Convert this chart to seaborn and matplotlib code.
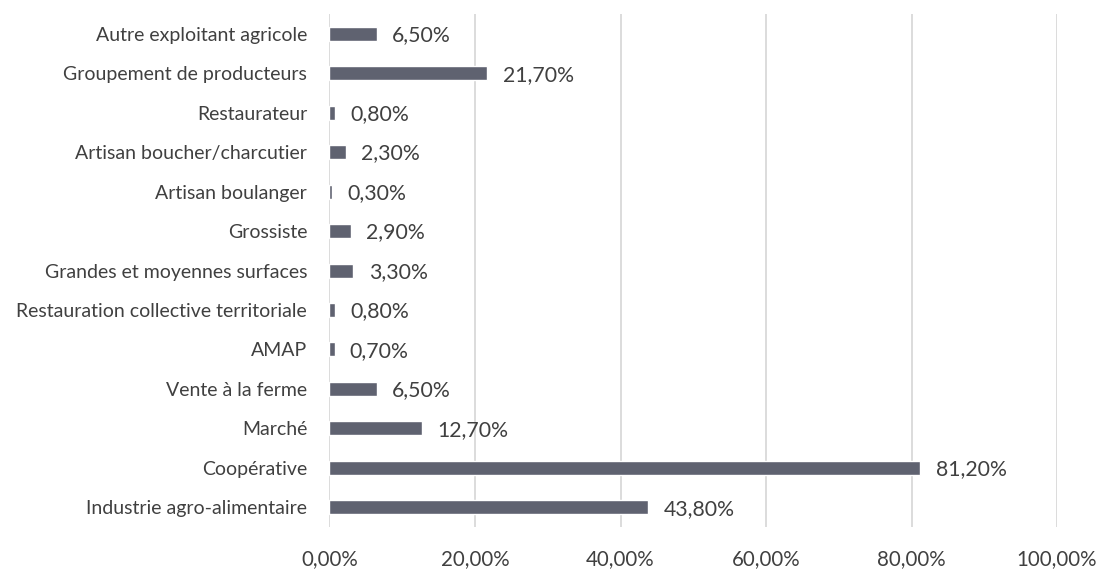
import matplotlib
matplotlib.use("Agg")
import matplotlib.pyplot as plt
import seaborn as sns
import pandas as pd
from matplotlib.ticker import FuncFormatter

categories = [
    "Autre exploitant agricole",
    "Groupement de producteurs",
    "Restaurateur",
    "Artisan boucher/charcutier",
    "Artisan boulanger",
    "Grossiste",
    "Grandes et moyennes surfaces",
    "Restauration collective territoriale",
    "AMAP",
    "Vente à la ferme",
    "Marché",
    "Coopérative",
    "Industrie agro-alimentaire",
]
values = [6.5, 21.7, 0.8, 2.3, 0.3, 2.9, 3.3, 0.8, 0.7, 6.5, 12.7, 81.2, 43.8]
x_ticks = [0, 20, 40, 60, 80, 100]

df = pd.DataFrame({"canal": categories, "part": values})

sns.set_theme(style="white")
plt.rcParams["font.family"] = ["Lato", "DejaVu Sans"]

text_color = "#404040"
bar_color = "#5f6270"
grid_color = "#d9d9d9"


def pct(v):
    return f"{v:.2f}%".replace(".", ",")


fig = plt.figure(figsize=(11, 5.7), dpi=100)
ax = fig.add_axes([0.2995, 0.0754, 0.6615, 0.9])

sns.barplot(data=df, y="canal", x="part", orient="h", color=bar_color,
            saturation=1, width=0.355, ax=ax, order=categories)

ax.set_xlim(0, 100)
ax.set_ylim(len(categories) - 0.5, -0.5)
ax.set_xticks(x_ticks)
ax.xaxis.set_major_formatter(FuncFormatter(lambda v, _: pct(v)))
ax.grid(axis="x", color=grid_color, linewidth=1.3)
ax.grid(axis="y", visible=False)
ax.set_axisbelow(True)
for s in ax.spines.values():
    s.set_visible(False)

ax.set_xlabel("")
ax.set_ylabel("")
ax.tick_params(axis="x", length=0, pad=16, labelsize=14.8, labelcolor=text_color)
ax.tick_params(axis="y", length=0, pad=16, labelsize=14, labelcolor=text_color)

for i, v in enumerate(values):
    ax.annotate(pct(v), xy=(v, i), xytext=(11, -1), textcoords="offset points",
                va="center", ha="left", fontsize=15.3, color=text_color)

fig.savefig("out.png", dpi=100)
